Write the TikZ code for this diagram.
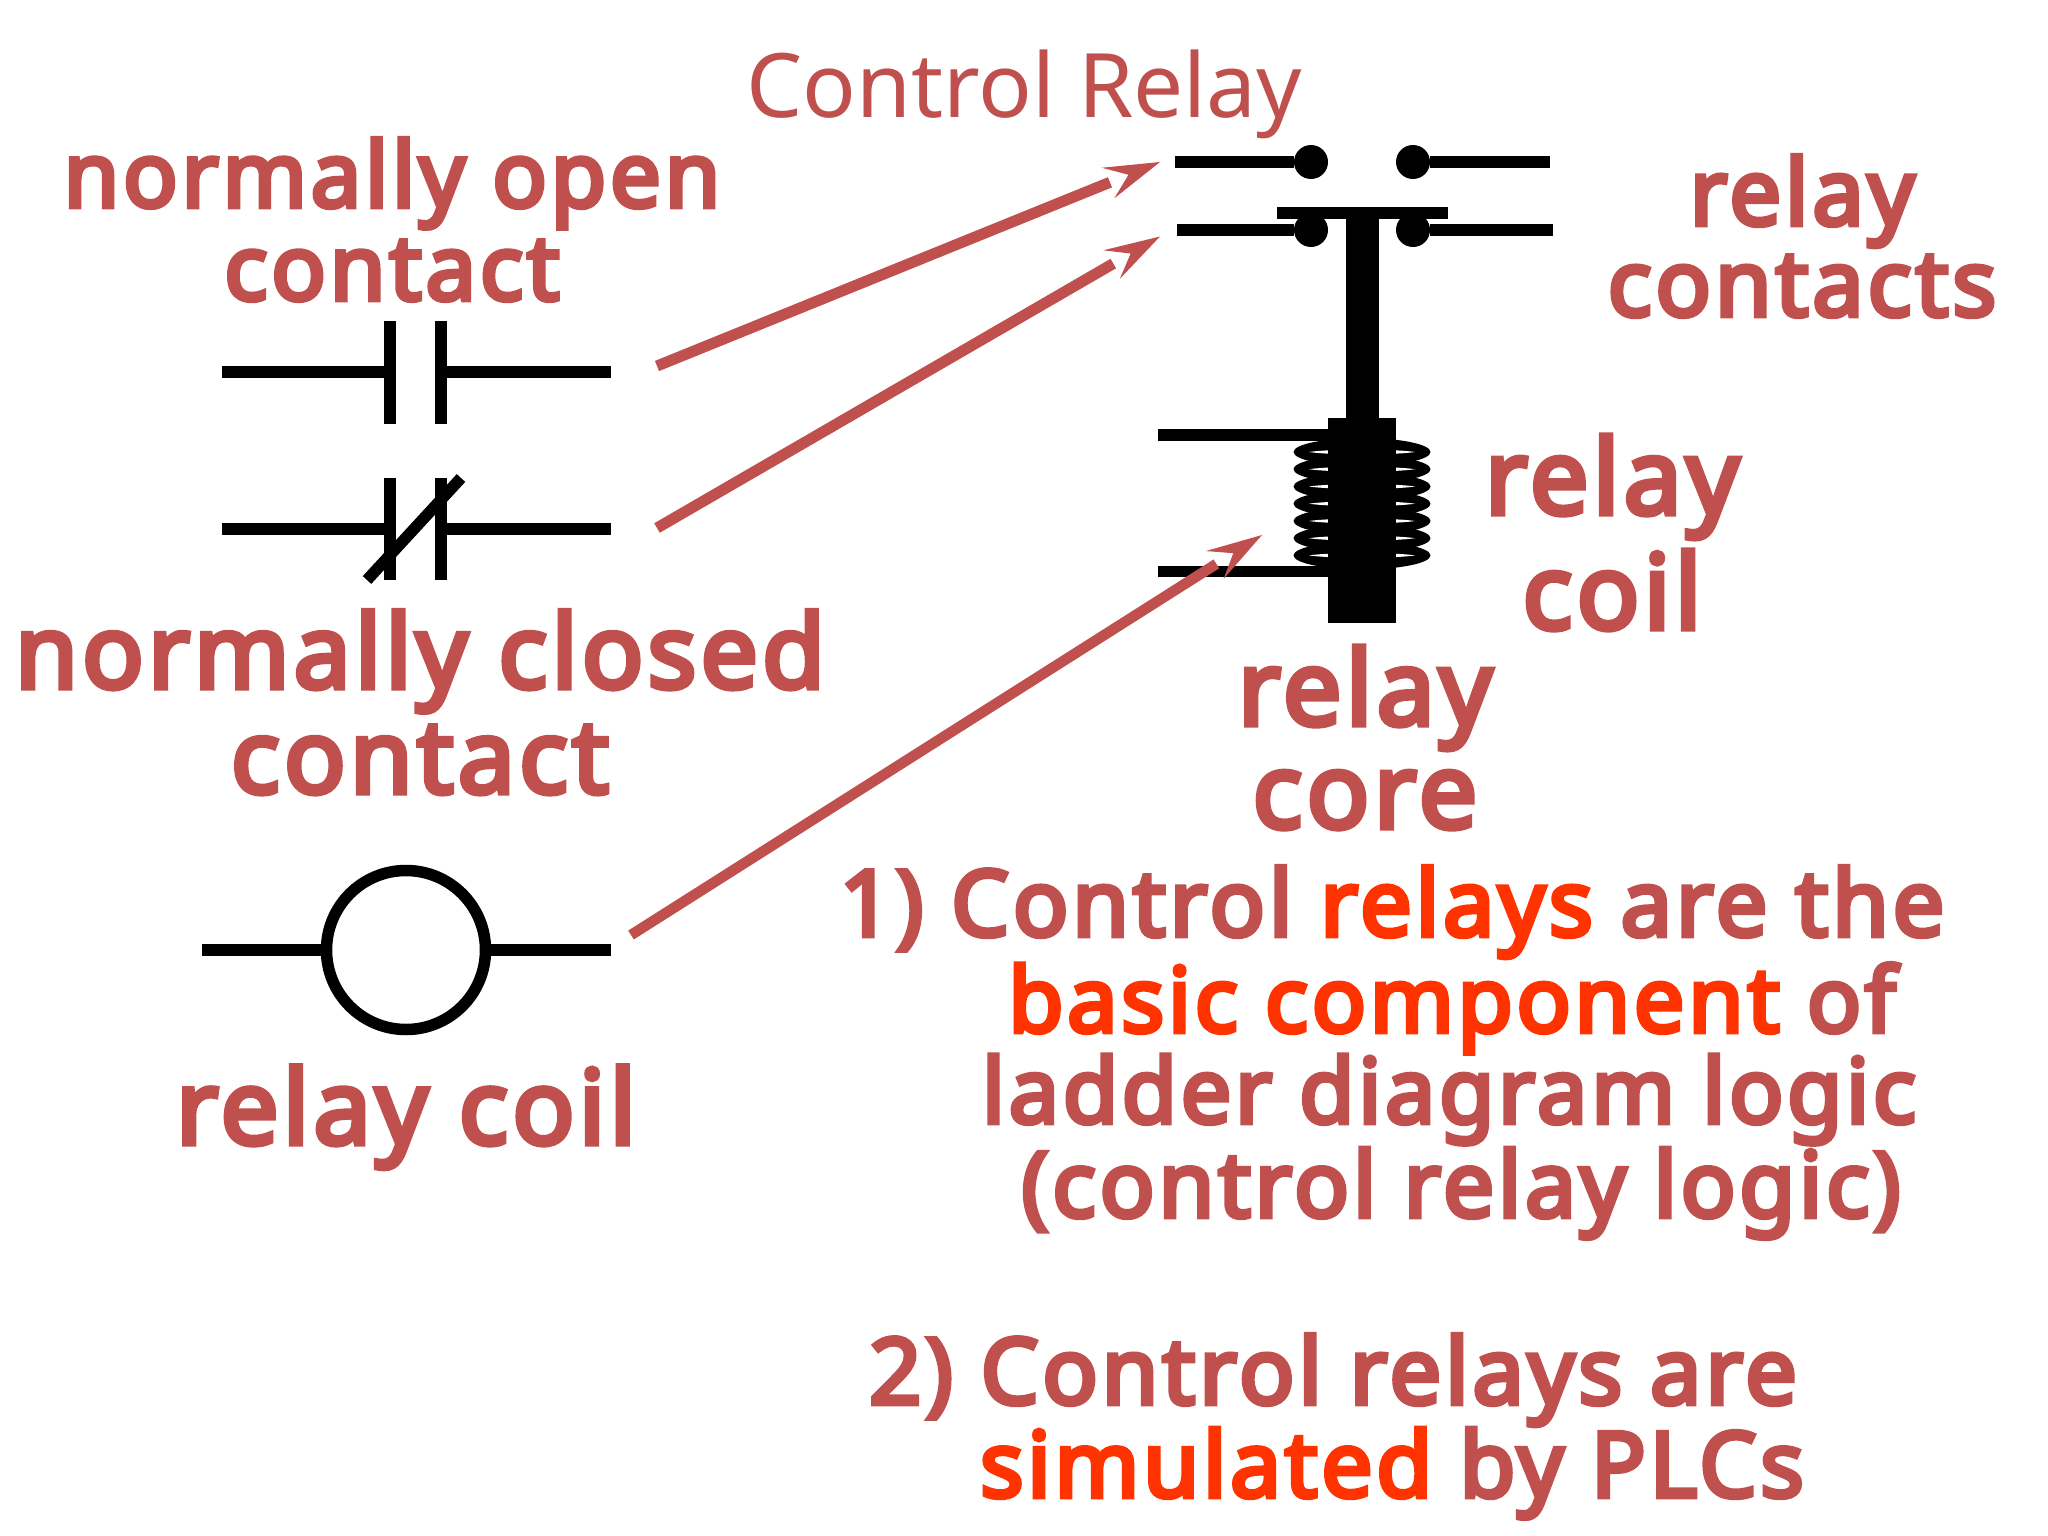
\documentclass[tikz,border=0pt]{standalone}
\usepackage{fontspec}
\setmainfont{Noto Sans}
\newfontfamily\lblfont{Noto Sans}[FakeBold=5,LetterSpace=4]
\usetikzlibrary{calc}
\definecolor{lab}{HTML}{C0504D}
\definecolor{hot}{HTML}{FF3300}
\tikzset{
  wire/.style={line width=11.5pt,black,line cap=butt},
  shaft/.style={line width=#1,lab,line cap=butt,shorten >=54pt},
  shaft/.default=11pt,
  head/.pic={\fill[lab] (0,0) -- (-56,-16.5) -- (-34,0) -- (-56,16.5) -- cycle;},
  txt/.style={anchor=base,inner sep=0pt,outer sep=0pt,text=lab,font=\lblfont\fontsize{#1}{#1}\selectfont},
  mtxt/.style 2 args={anchor=base,inner sep=0pt,outer sep=0pt,text=lab,align=center,font=\lblfont\fontsize{#1}{#2}\selectfont},
  dotn/.style={circle,fill=black,inner sep=0pt,minimum size=34pt},
}
\begin{document}
\begin{tikzpicture}[x=1pt,y=-1pt]
\useasboundingbox[fill=white] (0,0) rectangle (2048,1536);
% NO contact
\coordinate (noL) at (222,372); \coordinate (noA) at (390,372);
\coordinate (noB) at (441,372); \coordinate (noR) at (611,372);
\coordinate (noAt) at (390,321); \coordinate (noAb) at (390,424);
\coordinate (noBt) at (441,321); \coordinate (noBb) at (441,424);
\draw[wire] (noL) -- (noA); \draw[wire] (noB) -- (noR);
\draw[wire] (noAt) -- (noAb); \draw[wire] (noBt) -- (noBb);
% NC contact
\coordinate (ncL) at (222,529); \coordinate (ncA) at (390,529);
\coordinate (ncB) at (441,529); \coordinate (ncR) at (611,529);
\coordinate (ncAt) at (390,478); \coordinate (ncAb) at (390,580);
\coordinate (ncBt) at (441,478); \coordinate (ncBb) at (441,580);
\coordinate (ncS1) at (367,580); \coordinate (ncS2) at (461,478);
\draw[wire] (ncL) -- (ncA); \draw[wire] (ncB) -- (ncR);
\draw[wire] (ncAt) -- (ncAb); \draw[wire] (ncBt) -- (ncBb);
\draw[wire] (ncS1) -- (ncS2);
% relay coil symbol
\node[circle,draw=black,line width=11.5pt,fill=white,inner sep=0pt,minimum size=159pt,outer sep=0pt] (coilsym) at (406,950) {};
\coordinate (csL) at (202,950); \coordinate (csR) at (611,950);
\draw[wire] (csL) -- (coilsym); \draw[wire] (coilsym) -- (csR);
% relay contacts
\node[dotn] (d1) at (1311,162) {}; \node[dotn] (d2) at (1413,162) {};
\node[dotn] (d3) at (1311,230) {}; \node[dotn] (d4) at (1413,230) {};
\coordinate (t1) at (1175,162); \coordinate (t2) at (1550,162);
\coordinate (t3) at (1177,230); \coordinate (t4) at (1553,230);
\draw[wire] (t1) -- (d1); \draw[wire] (d2) -- (t2);
\draw[wire] (t3) -- (d3); \draw[wire] (d4) -- (t4);
\fill[black] (1277,207) rectangle (1448,219);
\fill[black] (1346,219) rectangle (1379,418);
% coil windings
\foreach \yy in {452,469.2,486.5,503.7,521,538.2,555.4}
  \fill[black] (1362,\yy) ellipse [x radius=68.5pt,y radius=14pt];
\foreach \yy in {452,469.2,486.5,503.7,521,538.2,555.4}
  \fill[white] (1309,\yy) .. controls (1330,\yy-3.2) and (1394,\yy-3.2) .. (1415,\yy) .. controls (1394,\yy+3.2) and (1330,\yy+3.2) .. cycle;
% core
\fill[black] (1328,418) rectangle (1396,623);
\coordinate (w1) at (1158,435); \coordinate (w1e) at (1328,435);
\coordinate (w2) at (1158,571.5); \coordinate (w2e) at (1328,571.5);
\draw[wire] (w1) -- (w1e); \draw[wire] (w2) -- (w2e);
% arrows
\coordinate (a1) at (657,366); \coordinate (a1e) at (1160,162);
\coordinate (a2) at (657,528); \coordinate (a2e) at (1160,236.5);
\coordinate (a3) at (631,935); \coordinate (a3e) at (1262,535);
\draw[shaft] (a1) -- (a1e); \path (a1) -- (a1e) pic[pos=1,sloped]{head};
\draw[shaft] (a2) -- (a2e); \path (a2) -- (a2e) pic[pos=1,sloped]{head};
\draw[shaft=10.5pt] (a3) -- (a3e); \path (a3) -- (a3e) pic[pos=1,sloped]{head};
% labels
\node[anchor=base,inner sep=0pt,text=lab,font=\fontsize{89}{89}\selectfont] (title) at (1024,118) {Control Relay};
\node[mtxt={90.5}{93}] (lno) at (392,300) {normally open\\contact};
\node[mtxt={102}{105}] (lnc) at (420,793) {normally closed\\contact};
\node[mtxt={103}{103}] (lrc) at (406,1144) {relay coil};
\node[mtxt={92}{91}] (lcts) at (1802,316) {relay\\contacts};
\node[mtxt={104}{115}] (lcoil) at (1612,629) {relay\\coil};
\node[mtxt={104}{103}] (lcore) at (1365,828) {relay\\core};
\node[txt=92] (p1) at (1392,936) {1) Control \textcolor{hot}{relays} are the};
\node[txt=90] (p2) at (1452,1032) {\textcolor{hot}{basic component} of};
\node[txt=90] (p3) at (1449,1123) {ladder diagram logic};
\node[txt=91] (p4) at (1461,1217) {(control relay logic)};
\node[txt=92] (p5) at (1333,1404) {2) Control relays are};
\node[txt=91] (p6) at (1392,1497) {\textcolor{hot}{simulated} by PLCs};
\end{tikzpicture}
\end{document}
